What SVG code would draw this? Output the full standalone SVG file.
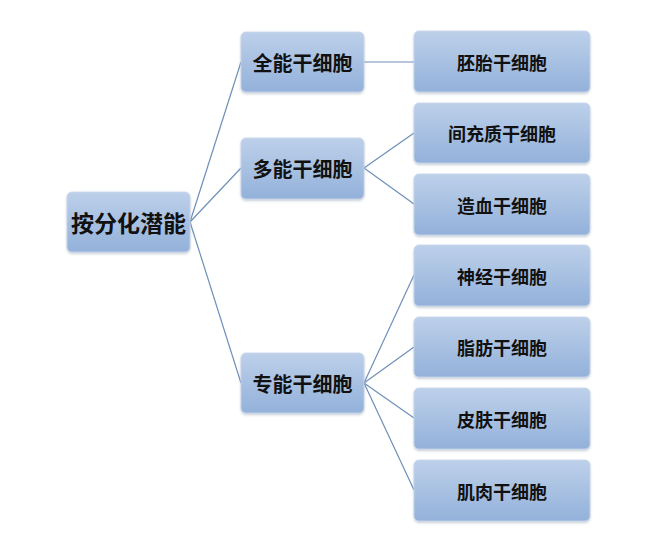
<svg xmlns="http://www.w3.org/2000/svg" width="660" height="543" viewBox="0 0 660 543">
<defs>
<linearGradient id="g" x1="0" y1="0" x2="0" y2="1">
<stop offset="0" stop-color="#bdd0ea"/>
<stop offset="1" stop-color="#93b1da"/>
</linearGradient>
<filter id="sh" x="-10%" y="-10%" width="120%" height="130%">
<feDropShadow dx="0" dy="1.5" stdDeviation="1.2" flood-color="#7f8fa6" flood-opacity="0.45"/>
</filter>
</defs>
<style>
.box{fill:url(#g);stroke:#c9d7ec;stroke-width:0.8;filter:url(#sh)}
.t{font-family:"Noto Sans CJK SC","Noto Sans CJK TC",sans-serif;font-weight:bold;fill:#111;text-anchor:middle;dominant-baseline:central}
.l1{font-size:23px}
.l2{font-size:20px}
.l3{font-size:18px}
.c{stroke:#6f8fb8;stroke-width:1.2;fill:none}
</style>
<rect width="660" height="543" fill="#fff"/>
<g id="connectors">
<line class="c" x1="190" y1="222" x2="241" y2="62"/>
<line class="c" x1="190" y1="222" x2="241" y2="168"/>
<line class="c" x1="190" y1="222" x2="241" y2="383"/>
<line class="c" x1="364" y1="62" x2="414" y2="62"/>
<line class="c" x1="364" y1="168" x2="414" y2="133"/>
<line class="c" x1="364" y1="168" x2="414" y2="204"/>
<line class="c" x1="364" y1="383" x2="414" y2="275"/>
<line class="c" x1="364" y1="383" x2="414" y2="347"/>
<line class="c" x1="364" y1="383" x2="414" y2="418"/>
<line class="c" x1="364" y1="383" x2="414" y2="490"/>
</g>
<g id="root"><rect class="box" x="67" y="192" width="123" height="60" rx="5"/><text class="t l1" x="128.5" y="222">按分化潜能</text></g>
<g id="n-quanneng"><rect class="box" x="241" y="32" width="123" height="60" rx="5"/><text class="t l2" x="302.5" y="62">全能干细胞</text></g>
<g id="n-duoneng"><rect class="box" x="241" y="138" width="123" height="61" rx="5"/><text class="t l2" x="302.5" y="168">多能干细胞</text></g>
<g id="n-zhuanneng"><rect class="box" x="241" y="353" width="123" height="60" rx="5"/><text class="t l2" x="302.5" y="383">专能干细胞</text></g>
<g id="n-peitai"><rect class="box" x="414" y="31" width="176" height="61" rx="5"/><text class="t l3" x="502" y="61.5">胚胎干细胞</text></g>
<g id="n-jianchongzhi"><rect class="box" x="414" y="103" width="176" height="60" rx="5"/><text class="t l3" x="502" y="133">间充质干细胞</text></g>
<g id="n-zaoxue"><rect class="box" x="414" y="174" width="176" height="61" rx="5"/><text class="t l3" x="502" y="204.5">造血干细胞</text></g>
<g id="n-shenjing"><rect class="box" x="414" y="245" width="176" height="61" rx="5"/><text class="t l3" x="502" y="275.5">神经干细胞</text></g>
<g id="n-zhifang"><rect class="box" x="414" y="317" width="176" height="60" rx="5"/><text class="t l3" x="502" y="347">脂肪干细胞</text></g>
<g id="n-pifu"><rect class="box" x="414" y="388" width="176" height="61" rx="5"/><text class="t l3" x="502" y="418.5">皮肤干细胞</text></g>
<g id="n-jirou"><rect class="box" x="414" y="460" width="176" height="61" rx="5"/><text class="t l3" x="502" y="490.5">肌肉干细胞</text></g>
</svg>
